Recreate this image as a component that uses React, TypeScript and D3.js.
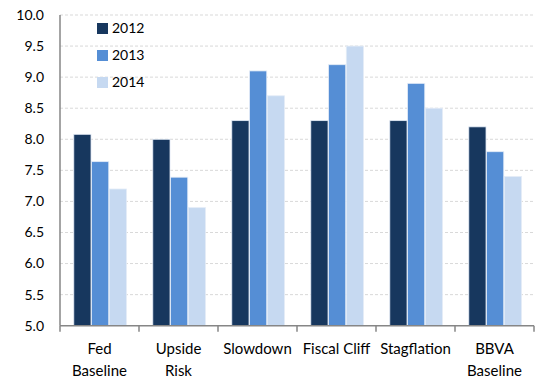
import React from "react";
import * as d3 from "d3";

const categories = [["Fed", "Baseline"], ["Upside", "Risk"], ["Slowdown"], ["Fiscal Cliff"], ["Stagflation"], ["BBVA", "Baseline"]];
const seriesNames = ["2012", "2013", "2014"];
const values2012 = [8.08, 8.0, 8.3, 8.3, 8.3, 8.2];
const values2013 = [7.64, 7.39, 9.1, 9.2, 8.9, 7.8];
const values2014 = [7.2, 6.9, 8.7, 9.5, 8.5, 7.4];
const yTicks = [5.0, 5.5, 6.0, 6.5, 7.0, 7.5, 8.0, 8.5, 9.0, 9.5, 10.0];
const colors = ["#17375E", "#558ED5", "#C6D9F1"];

export default function App() {
  const W = 538, H = 379;
  const left = 60, right = 534, top = 15, bottom = 325.7;
  const series = [values2012, values2013, values2014];
  const x = d3.scaleBand<number>().domain(d3.range(categories.length)).range([left, right]).paddingInner(0).paddingOuter(0);
  const inner = d3.scaleBand<number>().domain([0, 1, 2]).range([13.8, 66.5]).paddingInner(0.03).paddingOuter(0);
  const y = d3.scaleLinear().domain([5, 10]).range([bottom, top]);
  const font = "Lato, 'Noto Sans', sans-serif";
  return (
    <svg width={W} height={H} style={{ position: "absolute", left: 0, top: 0 }} fontFamily={font}>
      {yTicks.slice(1).map((t) => (
        <line key={t} x1={left} x2={right} y1={y(t)} y2={y(t)} stroke="#D9D9D9" strokeWidth={1} strokeDasharray="3,2" />
      ))}
      {series.map((vals, si) =>
        vals.map((v, ci) => (
          <rect key={`${si}-${ci}`} x={x(ci)! + inner(si)!} y={y(v)} width={inner.bandwidth()} height={y(5) - y(v)} fill={colors[si]} stroke="#E4ECF7" strokeWidth={0.8} />
        ))
      )}
      <line x1={left} x2={left} y1={top} y2={bottom} stroke="#868686" strokeWidth={1.5} />
      <line x1={left} x2={right} y1={bottom} y2={bottom} stroke="#868686" strokeWidth={1.5} />
      {d3.range(categories.length + 1).map((i) => {
        const xx = i < categories.length ? x(i)! : right;
        return <line key={i} x1={xx} x2={xx} y1={bottom} y2={bottom + 6} stroke="#868686" strokeWidth={1.5} />;
      })}
      {yTicks.map((t) => (
        <text key={t} x={44} y={y(t)} dy="0.35em" textAnchor="end" fontSize={14} fill="#000">{t.toFixed(1)}</text>
      ))}
      {categories.map((lines, ci) => (
        <text key={ci} x={x(ci)! + x.bandwidth() / 2} textAnchor="middle" fontSize={15} fill="#000">
          {lines.map((l, li) => (
            <tspan key={li} x={x(ci)! + x.bandwidth() / 2} y={349 + li * 22} dy="0.35em">{l}</tspan>
          ))}
        </text>
      ))}
      {seriesNames.map((n, i) => (
        <g key={n} transform={`translate(97, ${23 + i * 27})`}>
          <rect x={0} y={0} width={11} height={11} fill={colors[i]} />
          <text x={15} y={5.5} dy="0.35em" fontSize={14} fill="#000">{n}</text>
        </g>
      ))}
    </svg>
  );
}
